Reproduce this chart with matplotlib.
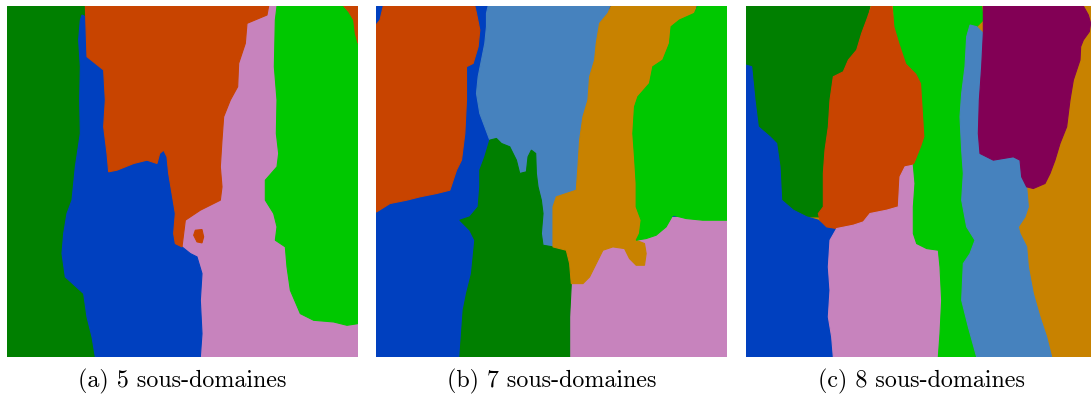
import matplotlib
matplotlib.use("Agg")
import matplotlib.pyplot as plt

# colours of the sub-domains
DARK_GREEN = "#007f00"
BLUE = "#0040bf"
RED_ORANGE = "#c84400"
PINK = "#c783bd"
GREEN = "#00c800"
STEEL = "#4682be"
GOLD = "#c88200"
PURPLE = "#820055"

CAPTIONS = ["(a) 5 sous-domaines", "(b) 7 sous-domaines", "(c) 8 sous-domaines"]

# outlines, in pixels of a 3x enlargement of each panel
# (a) 5 sub-domains
A_PINK = [(500, 18), (1073, 18), (1073, 1070), (500, 1070)]
A_GREEN = [(830, 18), (1073, 18), (1073, 970), (1040, 975), (1000, 965), (940, 960),
           (900, 940), (870, 870), (860, 800), (855, 740), (825, 720), (830, 680),
           (820, 640), (795, 600), (795, 540), (830, 500), (835, 460), (828, 400),
           (830, 300), (822, 200), (825, 60)]
A_CORNER = [(1030, 18), (1073, 18), (1073, 130), (1065, 100), (1060, 60), (1045, 35)]
A_BLUE = [(245, 45), (265, 55), (260, 170), (310, 210), (315, 300), (310, 380), (320, 460),
          (325, 515), (350, 510), (400, 490), (440, 480), (470, 490), (478, 460), (490, 450),
          (500, 470), (505, 520), (515, 580), (525, 640), (520, 700), (525, 730), (545, 740),
          (570, 760), (590, 770), (605, 820), (600, 900), (605, 1000), (600, 1070),
          (285, 1070), (275, 1010), (260, 950), (250, 880), (195, 830), (185, 760),
          (190, 700), (200, 640), (215, 600), (225, 500), (240, 400), (238, 300),
          (240, 200), (235, 120), (240, 60)]
A_ORANGE = [(255, 18), (805, 18), (800, 45), (740, 70), (735, 130), (715, 190), (712, 260),
            (690, 300), (670, 350), (665, 420), (660, 500), (665, 560), (660, 600),
            (600, 630), (555, 660), (550, 700), (545, 740), (525, 730), (520, 700),
            (525, 640), (515, 580), (505, 520), (500, 470), (490, 450), (478, 460),
            (470, 490), (440, 480), (400, 490), (350, 510), (325, 515), (320, 460),
            (310, 380), (315, 300), (310, 210), (260, 170)]
A_DOT = [(585, 690), (605, 688), (610, 710), (605, 728), (590, 725), (580, 705)]

# (b) 7 sub-domains
B_PINK = [(600, 650), (1073, 650), (1073, 1070), (600, 1070)]
B_ORANGE = [(40, 18), (315, 18), (320, 40), (330, 90), (325, 140), (310, 190), (290, 200),
            (290, 300), (285, 400), (275, 480), (260, 510), (240, 570), (200, 580),
            (150, 590), (110, 600), (60, 610), (20, 635), (18, 635), (18, 75), (30, 60)]
B_STEEL = [(355, 18), (720, 18), (715, 40), (690, 70), (680, 130), (675, 180), (660, 230),
           (655, 300), (640, 350), (630, 420), (625, 500), (620, 570), (590, 580),
           (560, 590), (550, 620), (550, 740), (520, 735), (515, 700), (520, 640),
           (515, 600), (505, 560), (500, 520), (498, 460), (485, 450), (475, 470),
           (470, 515), (450, 520), (440, 480), (420, 440), (395, 430), (380, 415),
           (360, 420), (345, 380), (330, 340), (320, 280), (325, 230), (335, 180),
           (345, 130), (350, 80), (350, 40)]
B_DGREEN = [(360, 420), (380, 415), (395, 430), (420, 440), (440, 480), (450, 520),
            (470, 515), (475, 470), (485, 450), (498, 460), (500, 520), (505, 560),
            (515, 600), (520, 640), (515, 700), (520, 735), (550, 740), (590, 750),
            (600, 790), (605, 850), (600, 950), (600, 1070), (270, 1070), (275, 1000),
            (280, 930), (290, 880), (305, 820), (315, 720), (300, 690), (270, 660),
            (300, 650), (325, 620), (330, 560), (330, 510), (345, 470)]
B_GOLD = [(725, 18), (980, 18), (975, 40), (930, 60), (905, 80), (900, 130), (880, 180),
          (850, 200), (840, 250), (805, 290), (795, 320), (790, 400), (795, 470),
          (800, 550), (800, 620), (815, 660), (810, 700), (800, 720), (825, 730),
          (830, 760), (825, 795), (800, 795), (780, 775), (765, 745), (730, 740),
          (700, 750), (680, 790), (660, 830), (640, 850), (605, 850), (600, 790),
          (590, 750), (550, 740), (550, 620), (560, 590), (620, 570), (625, 500),
          (630, 420), (640, 350), (655, 300), (660, 230), (675, 180), (680, 130),
          (690, 70), (715, 40)]
B_GREEN = [(985, 18), (1073, 18), (1073, 660), (1000, 660), (950, 655), (910, 645),
           (890, 680), (860, 705), (830, 715), (800, 720), (810, 700), (815, 660),
           (800, 620), (800, 550), (795, 470), (790, 400), (795, 320), (805, 290),
           (840, 250), (850, 200), (880, 180), (900, 130), (905, 80), (930, 60), (975, 40)]

# (c) 8 sub-domains
C_DGREEN = [(18, 18), (390, 18), (380, 60), (365, 100), (350, 150), (325, 180), (310, 215),
            (280, 230), (270, 300), (265, 380), (255, 450), (250, 520), (250, 620),
            (240, 650), (200, 650), (160, 630), (125, 600), (120, 500), (110, 430),
            (90, 410), (55, 380), (45, 300), (35, 200), (18, 195)]
C_BLUE = [(18, 195), (35, 200), (45, 300), (55, 380), (90, 410), (110, 430), (120, 500),
          (125, 600), (160, 630), (200, 650), (235, 660), (260, 680), (290, 685),
          (270, 720), (265, 800), (270, 870), (265, 950), (275, 1010), (280, 1070), (18, 1070)]
C_ORANGE = [(395, 18), (455, 18), (465, 80), (480, 130), (500, 190), (530, 220), (545, 250),
            (550, 330), (555, 410), (545, 440), (525, 490), (495, 500), (480, 530),
            (475, 620), (440, 630), (390, 640), (370, 665), (340, 675), (290, 685),
            (260, 680), (240, 660), (235, 640), (250, 620), (250, 520), (255, 450),
            (265, 380), (270, 300), (280, 230), (310, 215), (325, 180), (350, 150),
            (365, 100), (380, 60)]
C_PINK = [(290, 685), (340, 675), (370, 665), (390, 640), (440, 630), (475, 620), (480, 530),
          (495, 500), (520, 495), (525, 550), (520, 620), (520, 700), (530, 730), (560, 745),
          (595, 750), (600, 800), (605, 900), (600, 1000), (595, 1070), (280, 1070),
          (275, 1010), (265, 950), (270, 870), (265, 800), (270, 720)]
C_GREEN = [(460, 18), (725, 18), (730, 60), (710, 80), (690, 75), (680, 110), (675, 200),
           (665, 280), (660, 350), (665, 450), (670, 520), (665, 600), (680, 680),
           (705, 720), (690, 760), (670, 790), (665, 900), (685, 980), (710, 1070),
           (595, 1070), (600, 1000), (605, 900), (600, 800), (595, 750), (560, 745),
           (530, 730), (520, 700), (520, 620), (525, 550), (520, 495), (525, 490),
           (545, 440), (555, 410), (550, 330), (545, 250), (530, 220), (500, 190),
           (480, 130), (465, 80)]
C_STEEL = [(690, 75), (710, 80), (730, 100), (725, 200), (718, 300), (715, 400), (720, 460),
           (760, 480), (820, 470), (840, 480), (845, 530), (860, 560), (865, 620),
           (855, 650), (835, 680), (840, 700), (860, 740), (865, 800), (880, 880),
           (900, 950), (920, 1010), (935, 1070), (710, 1070), (685, 980), (665, 900),
           (670, 790), (690, 760), (705, 720), (680, 680), (665, 600), (670, 520),
           (665, 450), (660, 350), (665, 280), (675, 200), (680, 110)]
C_PURPLE = [(730, 18), (1030, 18), (1045, 45), (1052, 70), (1048, 95), (1030, 120),
            (1022, 140), (1020, 180), (1000, 240), (990, 300), (980, 380), (960, 430),
            (945, 480), (930, 520), (915, 550), (880, 565), (860, 560), (845, 530),
            (840, 480), (820, 470), (760, 480), (720, 460), (715, 400), (718, 300),
            (725, 200), (730, 100), (730, 60)]

panels = [
    {"left": 7, "xlim": (20, 1073), "bg": DARK_GREEN,
     "layers": [(A_PINK, PINK), (A_GREEN, GREEN), (A_CORNER, RED_ORANGE),
                (A_BLUE, BLUE), (A_ORANGE, RED_ORANGE), (A_DOT, RED_ORANGE)]},
    {"left": 376, "xlim": (18, 1073), "bg": BLUE,
     "layers": [(B_PINK, PINK), (B_ORANGE, RED_ORANGE), (B_STEEL, STEEL),
                (B_DGREEN, DARK_GREEN), (B_GOLD, GOLD), (B_GREEN, GREEN)]},
    {"left": 746, "xlim": (18, 1071), "bg": GOLD,
     "layers": [(C_DGREEN, DARK_GREEN), (C_BLUE, BLUE), (C_ORANGE, RED_ORANGE),
                (C_PINK, PINK), (C_GREEN, GREEN), (C_STEEL, STEEL), (C_PURPLE, PURPLE)]},
]

W, H = 1091, 394
fig = plt.figure(figsize=(W / 100, H / 100), dpi=100)

for panel, caption in zip(panels, CAPTIONS):
    ax = fig.add_axes([panel["left"] / W, 37 / H, 351 / W, 351 / H])
    for outline, colour in panel["layers"]:
        xs = [p[0] for p in outline]
        ys = [p[1] for p in outline]
        ax.fill(xs, ys, color=colour, lw=0.8, ec=colour)
    ax.set_xlim(*panel["xlim"])
    ax.set_ylim(1070, 18)
    ax.axis("off")
    ax.add_patch(plt.Rectangle((0, 0), 1, 1, transform=ax.transAxes,
                               color=panel["bg"], zorder=-1))
    centre = (panel["left"] + 175.5) / W
    fig.text(centre, 13 / H, caption, ha="center", va="center",
             family="cmr10", fontsize=17.3)

fig.savefig("out.png", dpi=100)
